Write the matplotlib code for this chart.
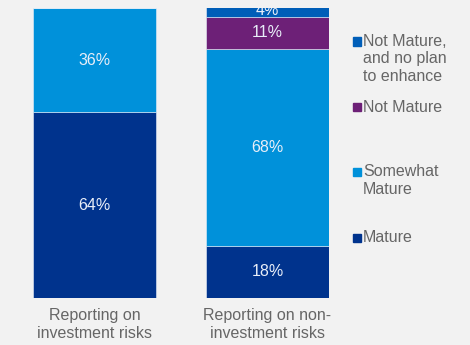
import matplotlib.pyplot as plt
from matplotlib.patches import Rectangle

plt.rcParams['font.family'] = ['Liberation Sans', 'DejaVu Sans']

categories = ["Reporting on\ninvestment risks", "Reporting on non-\ninvestment risks"]
series = ["Mature", "Somewhat\nMature", "Not Mature", "Not Mature,\nand no plan\nto enhance"]
values = [
    [64, 18],   # Mature
    [36, 68],   # Somewhat Mature
    [0, 11],    # Not Mature
    [0, 4],     # Not Mature, and no plan to enhance
]
colors = ["#00338D", "#0091DA", "#6D2077", "#005EB8"]

bg = "#f2f2f2"
grey = "#666666"
fs = 11.5
fig = plt.figure(figsize=(4.7, 3.45), dpi=100, facecolor=bg)
ax = fig.add_axes([33 / 470, 47 / 345, 296 / 470, 290 / 345])
ax.set_facecolor(bg)

x = range(len(categories))
bottoms = [0] * len(categories)
for vals, col in zip(values, colors):
    ax.bar(x, vals, width=0.713, bottom=bottoms, color=col,
           edgecolor="#e8eef8", linewidth=0.4)
    for i, v in enumerate(vals):
        if v > 0:
            ax.text(i, bottoms[i] + v / 2, f"{v}%", ha="center", va="center",
                    color="#e8eef8", fontsize=fs, clip_on=True)
    bottoms = [b + v for b, v in zip(bottoms, vals)]

ax.set_xlim(-0.3565, 1.3565)
ax.set_ylim(0, 100)
ax.axis("off")

for i, cat in enumerate(categories):
    ax.text(i, -3.6, cat, ha="center", va="top", color=grey, fontsize=fs,
            linespacing=1.2, clip_on=False)

# legend, drawn by hand so the entries sit beside their segments
legend_y = [41.5, 107, 172, 238]
order = [3, 2, 1, 0]
for y, k in zip(legend_y, order):
    fig.patches.append(Rectangle((353 / 470, 1 - (y + 4) / 345), 8 / 470, 8 / 345,
                                 transform=fig.transFigure, color=colors[k]))
    fig.text(363 / 470, 1 - (y - 7.5) / 345, series[k], ha="left", va="top",
             color=grey, fontsize=fs, linespacing=1.2)

fig.savefig("out.png", dpi=100, facecolor=bg)
